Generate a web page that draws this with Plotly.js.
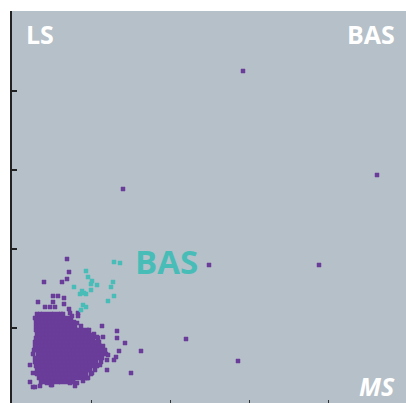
<!DOCTYPE html>
<html>
<head>
<meta charset="utf-8">
<script src="https://cdn.plot.ly/plotly-3.0.1.min.js"></script>
<style>html,body{margin:0;padding:0;background:#fff;}#chart{width:406px;height:403px;}</style>
</head>
<body>
<div id="chart"></div>
<script>
// Purple population (main cluster + outliers)
const purpleX = [
25,28,31,35,39,42,46,49,51,
23,27,30,34,38,41,45,48,52,56,59,
24,26,30,34,37,41,44,48,52,55,59,62,
24,27,31,35,38,42,45,49,53,56,60,63,69,
24,28,31,35,38,42,46,49,53,56,60,64,67,71,75,
25,27,31,34,38,42,45,49,52,56,60,63,67,70,74,77,82,
24,28,31,35,38,42,45,49,53,56,60,63,67,71,74,78,81,86,
23,26,30,34,37,41,44,48,52,55,59,62,66,70,73,77,80,84,87,
23,27,30,34,38,41,45,48,52,56,59,63,66,70,74,77,81,84,88,91,
22,25,29,33,36,40,43,47,51,54,58,61,65,69,72,76,79,83,86,89,
21,26,29,33,37,40,44,47,51,55,58,62,65,69,73,76,80,83,86,90,94,
23,26,30,34,37,41,44,48,52,55,59,62,66,70,73,77,80,84,87,90,
23,27,30,34,38,41,45,48,52,56,59,63,66,70,74,77,81,84,89,
24,27,31,35,38,42,45,49,53,56,60,63,67,71,74,78,82,85,
25,28,31,35,39,42,46,49,53,57,60,64,67,71,75,78,83,
25,28,32,36,39,43,46,50,54,57,61,64,68,72,74,79,
27,29,33,37,40,44,47,51,55,58,62,65,69,73,
29,31,35,39,42,46,49,53,57,61,
231,111,365,197,307,174,226,119,129,
55,57,32,50,55,41,46,52,26,41,52,33,38,43,57,58,66,66,60,65,
90,105,105,113,107,104,102,95,71,63,75,18,18,21,23,28,39,21,
80,77,85,91,87,93,96,95,88,80,76,69,65,58,40,35
];
const purpleY = [
89,89,89,89,89,89,89,89,89,
85,85,85,85,85,85,85,85,85,85,85,
81,81,81,81,81,81,81,81,81,81,81,81,
77,77,77,77,77,77,77,77,77,77,77,77,77,
73,73,73,73,73,73,73,73,73,73,73,73,73,73,73,
69,69,69,69,69,69,69,69,69,69,69,69,69,69,69,69,69,
65,65,65,65,65,65,65,65,65,65,65,65,65,65,65,65,65,65,
61,61,61,61,61,61,61,61,61,61,61,61,61,61,61,61,61,61,61,
57,57,57,57,57,57,57,57,57,57,57,57,57,57,57,57,57,57,57,57,
53,53,53,53,53,53,53,53,53,53,53,53,53,53,53,53,53,53,53,53,
49,49,49,49,49,49,49,49,49,49,49,49,49,49,49,49,49,49,49,49,49,
45,45,45,45,45,45,45,45,45,45,45,45,45,45,45,45,45,45,45,45,
41,41,41,41,41,41,41,41,41,41,41,41,41,41,41,41,41,41,41,
37,37,37,37,37,37,37,37,37,37,37,37,37,37,37,37,37,37,
33,33,33,33,33,33,33,33,33,33,33,33,33,33,33,33,33,
29,29,29,29,29,29,29,29,29,29,29,29,29,29,29,29,
25,25,25,25,25,25,25,25,25,25,25,25,25,25,
21,21,21,21,21,21,21,21,21,21,
332,214,228,138,138,64,42,30,52,
144,131,121,121,124,107,107,105,101,101,99,96,96,96,94,90,90,87,87,80,
77,72,65,60,52,46,43,33,22,17,25,38,21,16,16,17,18,30,
68,73,66,66,56,53,48,43,38,30,25,28,20,20,18,20
];
// Teal "BAS" group
const tealX = [102,108,74,76,80,79,85,101,62,99,79,70,72,74,68,102,96,71,74,69];
const tealY = [141,140,132,126,122,119,118,121,116,116,113,112,110,109,109,107,102,98,96,93];

const xTicks = [79,158,237,316];
const yTicks = [75,154,233,312,391];
const labels = [
  {text:'LS', x:12, y:369, xanchor:'left', size:25, color:'#ffffff', style:'normal'},
  {text:'BAS', x:385, y:369, xanchor:'right', size:25, color:'#ffffff', style:'normal'},
  {text:'MS', x:385, y:17, xanchor:'right', size:25, color:'#ffffff', style:'italic'},
  {text:'BAS', x:121, y:142, xanchor:'left', size:33, color:'#48bdb8', style:'normal'}
];

const purple = '#6a3d9a';
const teal = '#48bdb8';

const data = [
  {x: purpleX, y: purpleY, type:'scatter', mode:'markers', hoverinfo:'skip',
   marker:{symbol:'square', size:4, color:purple, line:{width:0.5, color:purple}}},
  {x: tealX, y: tealY, type:'scatter', mode:'markers', hoverinfo:'skip',
   marker:{symbol:'square', size:4, color:teal, line:{width:0.5, color:teal}}}
];

const layout = {
  width:406, height:403,
  margin:{l:12, r:0, t:11, b:0, pad:0},
  paper_bgcolor:'#ffffff',
  plot_bgcolor:'#b6c0c8',
  showlegend:false,
  xaxis:{range:[0,394], showgrid:false, zeroline:false, showline:false,
         tickmode:'array', tickvals:xTicks, ticks:'inside', ticklen:3, tickwidth:1, tickcolor:'#333',
         showticklabels:false, fixedrange:true},
  yaxis:{range:[0,392], showgrid:false, zeroline:false, showline:true, linecolor:'#222', linewidth:2,
         tickmode:'array', tickvals:yTicks, ticks:'inside', ticklen:5, tickwidth:1.5, tickcolor:'#222',
         showticklabels:false, fixedrange:true},
  annotations: labels.map(l => ({
    text:l.text, x:l.x, y:l.y, xref:'x', yref:'y', xanchor:l.xanchor, yanchor:'middle',
    showarrow:false,
    font:{family:'Open Sans, sans-serif', size:l.size, color:l.color, weight:700, style:l.style}
  }))
};

Plotly.newPlot('chart', data, layout, {displayModeBar:false, staticPlot:true});
</script>
</body>
</html>
